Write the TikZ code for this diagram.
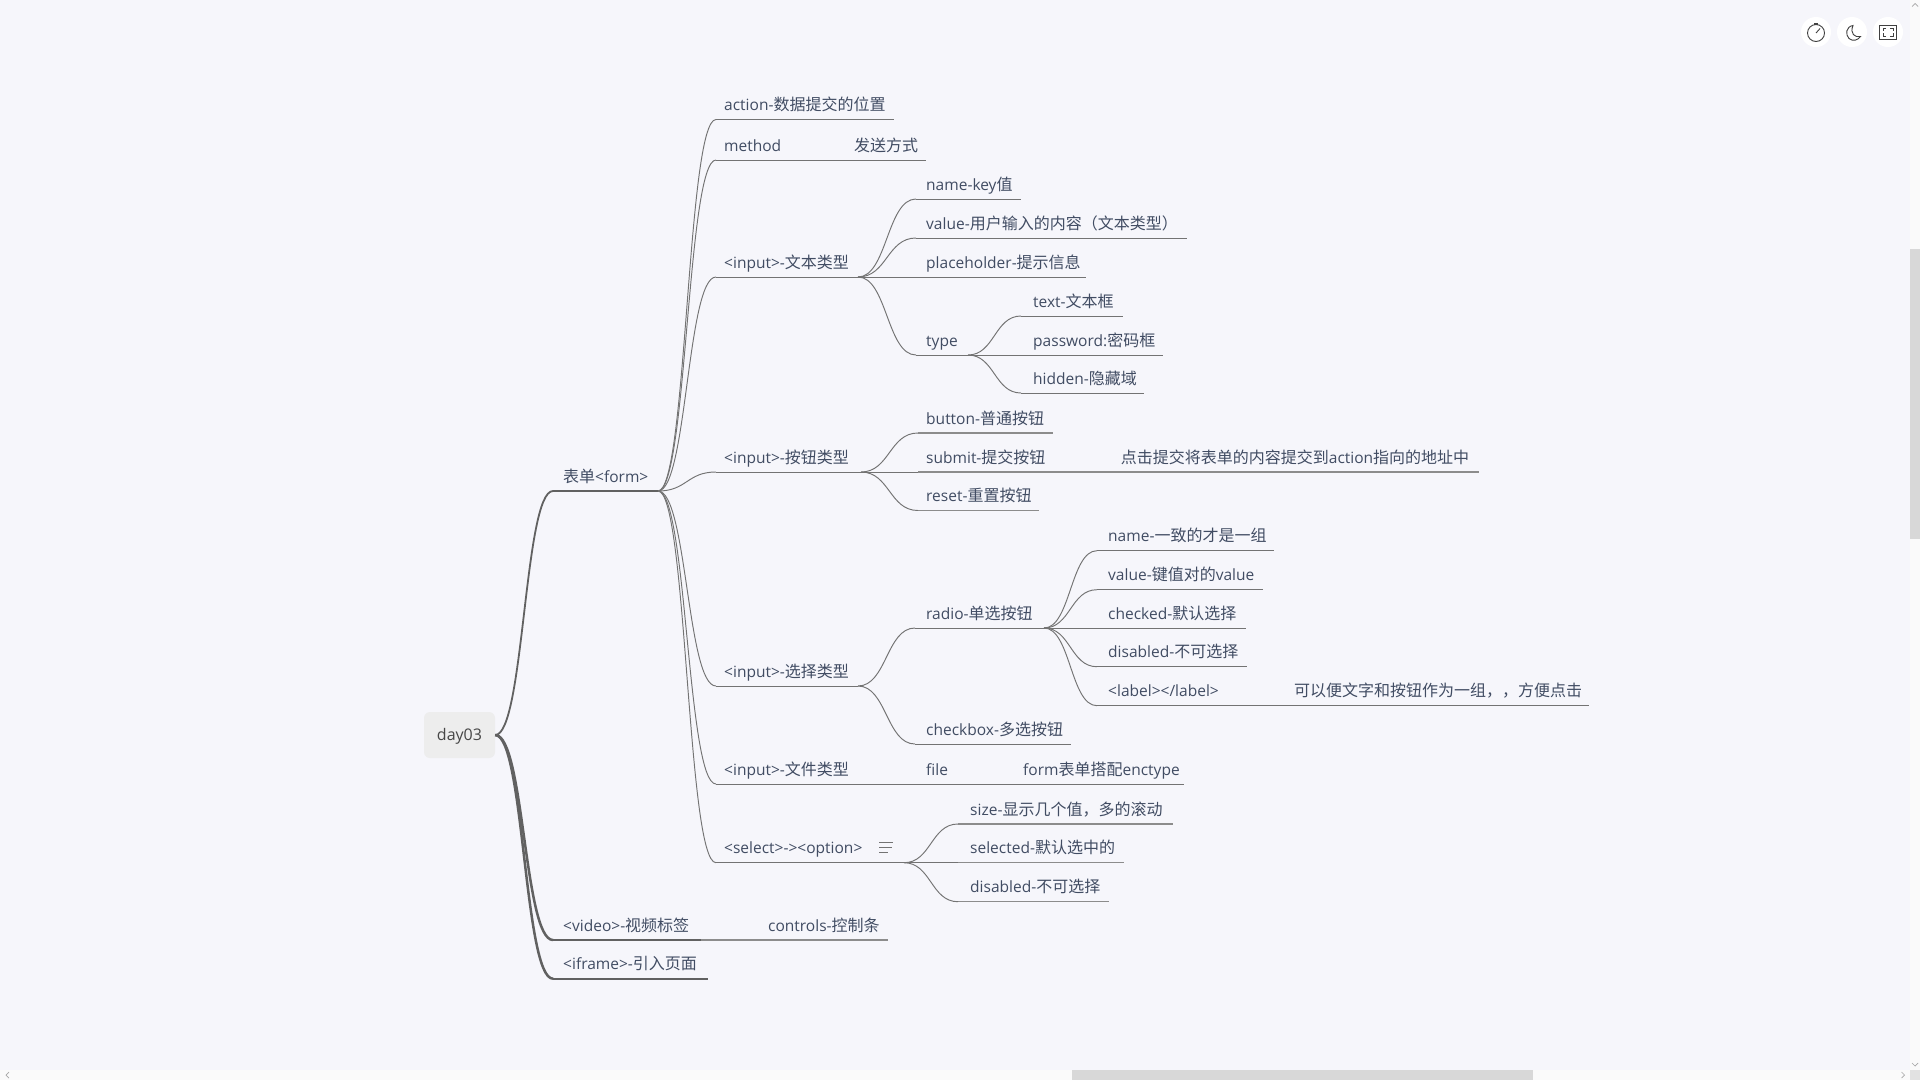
\documentclass[tikz,border=0pt]{standalone}
\usepackage{fontspec}
\usetikzlibrary{calc}
\setmainfont{Open Sans}[Scale=0.97]
\newfontfamily\cjk{Noto Sans CJK SC}
\newcommand\C[1]{{\cjk #1}}
\definecolor{bgc}{HTML}{F6F6FB}
\definecolor{inkc}{HTML}{414C63}
\definecolor{trackc}{HTML}{FAFAFA}
\definecolor{thumbc}{HTML}{D8D8D8}
\definecolor{rootc}{HTML}{EDEDED}
\tikzset{
  lbl/.style={anchor=base west,inner sep=0pt,text=inkc,font=\fontsize{16}{19}\selectfont},
  levone/.style={draw=black!62,line width=1.8pt},
  levtwo/.style={draw=black!55,line width=0.95pt},
  leaf/.style={draw=black!45,line width=1.15pt},
  icon/.style={draw=black!75,line width=0.9pt},
  chev/.style={draw=black!35,line width=0.7pt},
}
% style, name, x start, x end, y, text x, text
\newcommand\topic[7]{%
  \coordinate (#2-s) at (#3,#5);
  \coordinate (#2-e) at (#4,#5);
  \node[lbl] (#2) at (#6,{#5-9}) {#7};
  \draw[#1] (#2-s) -- (#2-e);
}
% style, parent, child
\newcommand\branch[3]{%
  \coordinate (mid) at ($(#2-e)!.5!(#3-s)$);
  \draw[#1] (#2-e) .. controls (mid|-#2-e) and (mid|-#3-s) .. (#3-s);
}
\begin{document}
\begin{tikzpicture}[x=1pt,y=-1pt]
\useasboundingbox (0,0) rectangle (1920,1080);
\fill[bgc] (0,0) rectangle (1920,1080);
% scrollbars
\fill[trackc] (1910,0) rectangle (1920,1080);
\fill[trackc] (0,1070) rectangle (1920,1080);
\fill[thumbc] (1910,249) rectangle (1920,539);
\fill[thumbc] (1072,1070) rectangle (1533,1080);
\fill[thumbc!70!trackc] (1910,1070) rectangle (1920,1080);
\draw[chev] (1912,6.5) -- (1915,3.5) -- (1918,6.5);
\draw[chev] (1912,1063) -- (1915,1066) -- (1918,1063);
\draw[chev] (9,1072) -- (6,1075) -- (9,1078);
\draw[chev] (1901.5,1072) -- (1904.5,1075) -- (1901.5,1078);
% toolbar icons
\fill[white] (1816,32) circle (15);
\fill[white] (1852,32) circle (15);
\fill[white] (1888,32) circle (15);
\draw[icon] (1816,33) circle (8.5);
\draw[icon,line width=2pt] (1814,23.5) -- (1818,23.5);
\draw[icon] (1816,33) -- (1820,28.5);
\draw[icon] (1853,25.5) .. controls (1846,26.5) and (1845,34.5) .. (1849,38.5) .. controls (1853,42) and (1858,40) .. (1860.5,36.5) .. controls (1855,38) and (1849.5,33.5) .. (1853,25.5) -- cycle;
\draw[icon,line width=1pt] (1879.5,25) rectangle (1896.5,39);
\draw[icon] (1883,31) -- (1883,28) -- (1886,28);
\draw[icon] (1890,28) -- (1893,28) -- (1893,31);
\draw[icon] (1893,33) -- (1893,36) -- (1890,36);
\draw[icon] (1886,36) -- (1883,36) -- (1883,33);
% root
\node[fill=rootc,rounded corners=6pt,minimum width=71pt,minimum height=46pt,inner sep=0pt,text=black!72,text height=11.8pt,text depth=0pt,font=\fontsize{16.5}{19}\selectfont] (root) at (459.5,735) {day03};
\coordinate (root-e) at (root.east);
% level one
\topic{levone}{form}{553}{658}{491}{563}{\C{表单}<form>}
\topic{levone}{video}{553}{701}{940}{563}{<video>-\C{视频标签}}
\topic{levone}{iframe}{553}{708}{978.7}{563}{<iframe>-\C{引入页面}}
\branch{levone}{root}{form}
\branch{levone,line width=2.5pt}{root}{video}
\branch{levone,line width=2.5pt}{root}{iframe}
\topic{leaf}{controls}{701}{888}{940}{768}{controls-\C{控制条}}
% form children
\topic{levtwo}{action}{716}{894}{119.5}{724}{action-\C{数据提交的位置}}
\topic{levtwo}{method}{716}{846}{160}{724}{method}
\topic{levtwo}{send}{846}{925.7}{160}{854}{\C{发送方式}}
\topic{levtwo}{itext}{716}{858}{277}{724}{<input>-\C{文本类型}}
\topic{levtwo}{ibtn}{716}{861}{472}{724}{<input>-\C{按钮类型}}
\topic{levtwo}{ichoice}{716}{858}{686}{724}{<input>-\C{选择类型}}
\topic{levtwo}{ifile}{716}{862}{784}{724}{<input>-\C{文件类型}}
\topic{levtwo}{select}{716}{904}{862.7}{724}{<select>-><option>}
\foreach \k in {action,method,itext,ibtn,ichoice,ifile,select}{\branch{levtwo}{form}{\k}}
\branch{levtwo}{method}{send}
% select icon
\draw[draw=black!55,line width=1.4pt] (879,842.7) -- (893,842.7) (879,847.5) -- (892,847.5) (879,852.3) -- (888,852.3);
% text input
\topic{levtwo}{keyname}{916}{1021}{199}{926}{name-key\C{值}}
\topic{levtwo}{valtext}{916}{1187}{238}{926}{value-\C{用户输入的内容（文本类型）}}
\topic{levtwo}{holder}{916}{1086}{277}{926}{placeholder-\C{提示信息}}
\topic{levtwo}{typ}{916}{968}{355}{926}{type}
\foreach \k in {keyname,valtext,holder,typ}{\branch{levtwo}{itext}{\k}}
\topic{levtwo}{ttext}{1021}{1123}{316}{1033}{text-\C{文本框}}
\topic{levtwo}{tpass}{1021}{1163}{355}{1033}{password:\C{密码框}}
\topic{levtwo}{thide}{1021}{1144}{393}{1033}{hidden-\C{隐藏域}}
\foreach \k in {ttext,tpass,thide}{\branch{levtwo}{typ}{\k}}
% buttons
\topic{leaf}{bplain}{918}{1052.5}{433}{926}{button-\C{普通按钮}}
\topic{leaf}{bsubmit}{918}{1112}{472}{926}{submit-\C{提交按钮}}
\topic{leaf}{bnote}{1112}{1479}{472}{1120.7}{\C{点击提交将表单的内容提交到}action\C{指向的地址中}}
\topic{leaf}{breset}{918}{1039}{510.5}{926}{reset-\C{重置按钮}}
\foreach \k in {bplain,bsubmit,breset}{\branch{levtwo}{ibtn}{\k}}
\branch{leaf}{bsubmit}{bnote}
% choice
\topic{levtwo}{radio}{915}{1044}{628}{926}{radio-\C{单选按钮}}
\topic{levtwo}{checkbox}{915}{1071}{744}{926}{checkbox-\C{多选按钮}}
\foreach \k in {radio,checkbox}{\branch{levtwo}{ichoice}{\k}}
\topic{levtwo}{rname}{1097}{1274}{550.7}{1108}{name-\C{一致的才是一组}}
\topic{levtwo}{rvalue}{1097}{1263}{589.7}{1108}{value-\C{键值对的}value}
\topic{levtwo}{rcheck}{1097}{1246}{628}{1108}{checked-\C{默认选择}}
\topic{levtwo}{rdis}{1097}{1247}{666.7}{1108}{disabled-\C{不可选择}}
\topic{levtwo}{rlabel}{1097}{1285}{705.7}{1108}{<label></label>}
\topic{levtwo}{rnote}{1285}{1589}{705.7}{1294}{\C{可以便文字和按钮作为一组，，方便点击}}
\foreach \k in {rname,rvalue,rcheck,rdis,rlabel}{\branch{levtwo}{radio}{\k}}
\branch{levtwo}{rlabel}{rnote}
% file
\topic{levtwo}{filek}{915}{1015}{784}{926}{file}
\topic{levtwo}{fnote}{1015}{1184}{784}{1023}{form\C{表单搭配}enctype}
\branch{levtwo}{ifile}{filek}
\branch{levtwo}{filek}{fnote}
% select children
\topic{leaf}{ssize}{958}{1172.7}{824}{970}{size-\C{显示几个值，多的滚动}}
\topic{leaf}{ssel}{958}{1124}{862.7}{970}{selected-\C{默认选中的}}
\topic{leaf}{sdis}{958}{1109}{901.7}{970}{disabled-\C{不可选择}}
\foreach \k in {ssize,ssel,sdis}{\branch{levtwo}{select}{\k}}
\end{tikzpicture}
\end{document}
